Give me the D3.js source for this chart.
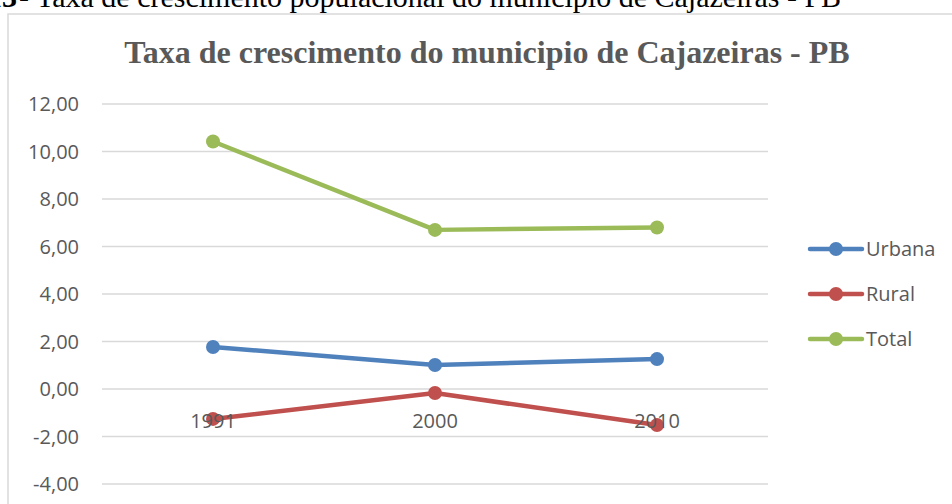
<!DOCTYPE html>
<html>
<head>
<meta charset="utf-8">
<script src="https://cdn.jsdelivr.net/npm/d3@7"></script>
<style>
  body { margin: 0; background: #fff; }
  svg { display: block; }
</style>
</head>
<body>
<svg id="chart"></svg>
<script>
// data
const years = ["1991", "2000", "2010"];
const urbana = [1.77, 1.01, 1.26];
const rural = [-1.26, -0.17, -1.52];
const total = [10.42, 6.7, 6.8];
const seriesNames = ["Urbana", "Rural", "Total"];
const seriesColors = ["#4F81BD", "#C0504D", "#9BBB59"];
const yTicks = [-4, -2, 0, 2, 4, 6, 8, 10, 12];

const width = 952, height = 504;
const svg = d3.select("#chart").attr("width", width).attr("height", height);

// caption above the chart box (its top is cut off, as in the reference)
svg.append("text")
    .attr("x", 17)
    .attr("y", 7)
    .attr("text-anchor", "end")
    .style("font-family", "'Liberation Serif', serif")
    .style("font-size", "30px")
    .style("font-weight", "bold")
    .attr("fill", "#000")
    .text("13");
svg.append("text")
    .attr("x", 27)
    .attr("y", 7)
    .style("font-family", "'Liberation Serif', serif")
    .style("font-size", "30px")
    .attr("fill", "#000")
    .text("- Taxa de crescimento populacional do município de Cajazeiras - PB")
    .attr("x", 19);

// chart box
svg.append("rect")
    .attr("x", 8).attr("y", 14)
    .attr("width", 960).attr("height", 520)
    .attr("fill", "none")
    .attr("stroke", "#d9d9d9")
    .attr("stroke-width", 1.5);

// title
svg.append("text")
    .attr("x", 487)
    .attr("y", 63)
    .attr("text-anchor", "middle")
    .style("font-family", "'Liberation Serif', serif")
    .style("font-size", "32px")
    .style("font-weight", "bold")
    .attr("fill", "#595959")
    .text("Taxa de crescimento do municipio de Cajazeiras - PB");

// scales
const x = d3.scaleBand().domain(years).range([102, 768]);
const y = d3.scaleLinear().domain([-4, 12]).range([484, 104]);

// gridlines
svg.selectAll(".grid")
    .data(yTicks)
    .enter()
    .append("line")
    .attr("x1", 102).attr("x2", 768)
    .attr("y1", d => y(d)).attr("y2", d => y(d))
    .attr("stroke", "#d9d9d9")
    .attr("stroke-width", 1.3);

// y tick labels
const fmt = d => d.toFixed(2).replace(".", ",");
svg.selectAll(".ylab")
    .data(yTicks)
    .enter()
    .append("text")
    .attr("x", 79)
    .attr("y", d => y(d))
    .attr("dy", "0.35em")
    .attr("text-anchor", "end")
    .style("font-family", "'Open Sans', sans-serif")
    .style("font-size", "20px")
    .attr("fill", "#595959")
    .text(fmt);

// series
const series = [urbana, rural, total].map((vals, i) => ({
    name: seriesNames[i],
    color: seriesColors[i],
    values: vals.map((v, j) => ({year: years[j], value: v}))
}));

const line = d3.line()
    .x(d => x(d.year) + x.bandwidth() / 2)
    .y(d => y(d.value));

const g = svg.selectAll(".series")
    .data(series)
    .enter()
    .append("g");

g.append("path")
    .attr("d", d => line(d.values))
    .attr("fill", "none")
    .attr("stroke", d => d.color)
    .attr("stroke-width", 4.5)
    .attr("stroke-linejoin", "round")
    .attr("stroke-linecap", "round");

g.selectAll("circle")
    .data(d => d.values.map(v => ({...v, color: d.color})))
    .enter()
    .append("circle")
    .attr("cx", d => x(d.year) + x.bandwidth() / 2)
    .attr("cy", d => y(d.value))
    .attr("r", 7)
    .attr("fill", d => d.color);

// category labels sit just under the zero line
svg.selectAll(".xlab")
    .data(years)
    .enter()
    .append("text")
    .attr("x", d => x(d) + x.bandwidth() / 2)
    .attr("y", y(0) + 39)
    .attr("text-anchor", "middle")
    .style("font-family", "'Open Sans', sans-serif")
    .style("font-size", "20px")
    .attr("fill", "#595959")
    .text(d => d);

// legend
const legend = svg.selectAll(".legend")
    .data(series)
    .enter()
    .append("g")
    .attr("transform", (d, i) => `translate(0,${249 + i * 45})`);

legend.append("line")
    .attr("x1", 810).attr("x2", 862)
    .attr("stroke", d => d.color)
    .attr("stroke-width", 4.5)
    .attr("stroke-linecap", "round");

legend.append("circle")
    .attr("cx", 836)
    .attr("r", 7)
    .attr("fill", d => d.color);

legend.append("text")
    .attr("x", 866)
    .attr("dy", "0.35em")
    .style("font-family", "'Open Sans', sans-serif")
    .style("font-size", "20px")
    .attr("fill", "#595959")
    .text(d => d.name);
</script>
</body>
</html>
